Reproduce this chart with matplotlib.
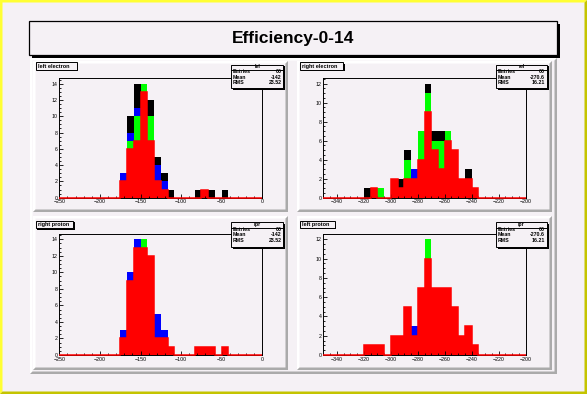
import matplotlib
matplotlib.use('Agg')
import matplotlib.pyplot as plt
from matplotlib.patches import Rectangle, Polygon
from matplotlib.ticker import MultipleLocator
import numpy as np

# canvas size in pixels
W, H = 587, 394
BG = '#f5f1f5'
GREY = '#aaaaaa'

title = 'Efficiency-0-14'

# histogram contents, 30 bins each (drawn overlaid: black, blue, green, red)
lel_black = [0,0,0,0,0,0,0,0,0,3,10,14,14,12,5,3,1,0,0,0,1,1,1,0,1,0,0,0,0,0]
lel_blue  = [0,0,0,0,0,0,0,0,0,3,8,11,14,10,4,2,0,0,0,0,0,1,0,0,0,0,0,0,0,0]
lel_green = [0,0,0,0,0,0,0,0,0,2,7,10,14,10,2,1,0,0,0,0,0,1,0,0,0,0,0,0,0,0]
lel_red   = [0,0,0,0,0,0,0,0,0,2,6,7,13,7,2,1,0,0,0,0,0,1,0,0,0,0,0,0,0,0]

rel_black = [0,0,0,0,0,0,1,1,1,0,2,2,5,3,7,12,7,7,7,5,2,3,1,0,0,0,0,0,0,0]
rel_blue  = [0,0,0,0,0,0,0,1,1,0,2,1,4,3,7,11,6,6,7,5,2,2,1,0,0,0,0,0,0,0]
rel_green = [0,0,0,0,0,0,0,1,1,0,2,1,4,2,7,11,6,6,7,5,2,2,1,0,0,0,0,0,0,0]
rel_red   = [0,0,0,0,0,0,0,1,0,0,2,1,2,2,4,9,5,3,6,5,2,2,1,0,0,0,0,0,0,0]

rpr_black = [0,0,0,0,0,0,0,0,0,3,10,14,14,12,5,3,1,0,0,0,1,1,1,0,1,0,0,0,0,0]
rpr_blue  = [0,0,0,0,0,0,0,0,0,3,10,14,14,12,5,3,1,0,0,0,1,1,1,0,1,0,0,0,0,0]
rpr_green = [0,0,0,0,0,0,0,0,0,2,9,13,14,12,2,2,1,0,0,0,1,1,1,0,1,0,0,0,0,0]
rpr_red   = [0,0,0,0,0,0,0,0,0,2,9,13,13,12,2,2,1,0,0,0,1,1,1,0,1,0,0,0,0,0]

lpr_black = [0,0,0,0,0,0,1,1,1,0,2,2,5,3,7,12,7,7,7,5,2,3,1,0,0,0,0,0,0,0]
lpr_blue  = [0,0,0,0,0,0,1,1,1,0,2,2,5,3,7,12,7,7,7,5,2,3,1,0,0,0,0,0,0,0]
lpr_green = [0,0,0,0,0,0,1,1,1,0,2,2,5,2,7,12,7,7,7,5,2,3,1,0,0,0,0,0,0,0]
lpr_red   = [0,0,0,0,0,0,1,1,1,0,2,2,5,2,7,10,7,7,7,5,2,3,1,0,0,0,0,0,0,0]

pad_titles = ['left electron', 'right electron', 'right proton', 'left proton']
stat_names = ['lel', 'rel', 'rpr', 'lpr']
stat_entries = ['66', '66', '66', '66']
stat_means = ['-142', '-270.6', '-142', '-270.6']
stat_rms = ['23.52', '16.21', '23.52', '16.21']
xranges = [(-250, 0), (-350, -200), (-250, 0), (-350, -200)]

plt.rcParams['font.family'] = ['Liberation Sans', 'DejaVu Sans']

fig = plt.figure(figsize=(W / 100, H / 100), dpi=100)
fig.patch.set_facecolor(BG)

bg = fig.add_axes([0, 0, 1, 1], zorder=0)
bg.set_xlim(0, W); bg.set_ylim(H, 0); bg.axis('off')
ov = fig.add_axes([0, 0, 1, 1], zorder=10)
ov.set_xlim(0, W); ov.set_ylim(H, 0); ov.axis('off')


def bevel(ax, x0, y0, x1, y1, bw, light, dark):
    ax.add_patch(Polygon([(x0, y0), (x1, y0), (x1 - bw, y0 + bw), (x0 + bw, y0 + bw),
                          (x0 + bw, y1 - bw), (x0, y1)], closed=True, fc=light, ec='none'))
    ax.add_patch(Polygon([(x1, y1), (x0, y1), (x0 + bw, y1 - bw), (x1 - bw, y1 - bw),
                          (x1 - bw, y0 + bw), (x1, y0)], closed=True, fc=dark, ec='none'))


def shadow_box(ax, x0, y0, x1, y1, sh, lw=0.7):
    ax.add_patch(Rectangle((x0 + sh, y0 + sh), x1 - x0, y1 - y0, fc='black', ec='none'))
    ax.add_patch(Rectangle((x0, y0), x1 - x0, y1 - y0, fc=BG, ec='black', lw=lw))


# canvas border and pads
bevel(bg, 0, 0, W, H, 2.5, '#ffff33', '#c4c400')
bevel(bg, 30, 58, 557, 374, 2.5, 'white', GREY)
pads = [(33, 61, 288, 212), (297, 61, 552, 212), (33, 216, 288, 370), (297, 216, 552, 370)]
for p in pads:
    bevel(bg, *p, 2.5, 'white', GREY)

# title
shadow_box(bg, 29, 21, 557, 55, 3, lw=0.9)
bg.text(293, 38.5, title, ha='center', va='center', fontsize=12.5, fontweight='bold')

# frames (pixel boxes)
frames = [(59.3, 78, 262.3, 197.7), (323.3, 78, 525.7, 197.7),
          (59.3, 233.5, 262.3, 355), (323.3, 233.5, 525.7, 355)]
label_boxes = [(36, 62.3, 76.7, 70), (300, 62.3, 343.3, 70),
               (36, 220.7, 73.3, 228.3), (300, 220.7, 335, 227.5)]
stat_boxes = [(231, 64.5, 283.3, 88.3), (496, 64.5, 546.7, 88.3),
              (231, 222.3, 283.3, 246.7), (496, 222.3, 546.7, 246.7)]

hists = [(lel_black, lel_blue, lel_green, lel_red),
         (rel_black, rel_blue, rel_green, rel_red),
         (rpr_black, rpr_blue, rpr_green, rpr_red),
         (lpr_black, lpr_blue, lpr_green, lpr_red)]
colors = ['black', '#0000ff', '#00ff00', '#ff0000']

for k in range(4):
    x0, y0, x1, y1 = frames[k]
    ax = fig.add_axes([x0 / W, 1 - y1 / H, (x1 - x0) / W, (y1 - y0) / H], zorder=2)
    ax.patch.set_alpha(0)
    lo, hi = xranges[k]
    edges = np.linspace(lo, hi, 31)
    for vals, col in zip(hists[k], colors):
        ax.stairs(vals, edges, fill=True, color=col, lw=0)
    ax.stairs(hists[k][3], edges, color='#ff0000', lw=1.1, clip_on=False, zorder=3)
    ax.set_xlim(lo, hi)
    ax.set_ylim(0, 1.05 * max(hists[k][0]))
    if hi - lo > 200:
        ax.xaxis.set_major_locator(MultipleLocator(50))
        ax.xaxis.set_minor_locator(MultipleLocator(10))
    else:
        ax.xaxis.set_major_locator(MultipleLocator(20))
        ax.xaxis.set_minor_locator(MultipleLocator(5))
    ax.yaxis.set_major_locator(MultipleLocator(2))
    ax.yaxis.set_minor_locator(MultipleLocator(0.5))
    ax.tick_params(which='both', direction='in', top=False, right=False, width=0.6,
                   labelsize=3.8, pad=1.2)
    ax.tick_params(which='major', length=3)
    ax.tick_params(which='minor', length=1.5)
    for s in ax.spines.values():
        s.set_linewidth(0.7)

    # pad title box
    bx0, by0, bx1, by1 = label_boxes[k]
    shadow_box(ov, bx0, by0, bx1, by1, 1.3)
    ov.text(bx0 + 1.8, (by0 + by1) / 2 + 0.2, pad_titles[k], ha='left', va='center',
            fontsize=4, fontweight='bold')

    # stats box
    sx0, sy0, sx1, sy1 = stat_boxes[k]
    shadow_box(ov, sx0, sy0, sx1, sy1, 1.8)
    ov.text((sx0 + sx1) / 2, sy0 + 2.3, stat_names[k], ha='center', va='center',
            fontsize=3.6, fontweight='bold')
    ov.plot([sx0, sx1], [sy0 + 5.3, sy0 + 5.3], color='black', lw=0.7)
    rows = [('Entries', stat_entries[k]), ('Mean', stat_means[k]), ('RMS', stat_rms[k])]
    for j, (name, val) in enumerate(rows):
        yy = sy0 + 6.8 + 5.8 * j
        ov.text(sx0 + 1.5, yy, name, ha='left', va='center', fontsize=3.8, fontweight='bold')
        ov.text(sx1 - 1.5, yy, val, ha='right', va='center', fontsize=3.8, fontweight='bold')

fig.savefig('out.png', dpi=100, facecolor=BG)
